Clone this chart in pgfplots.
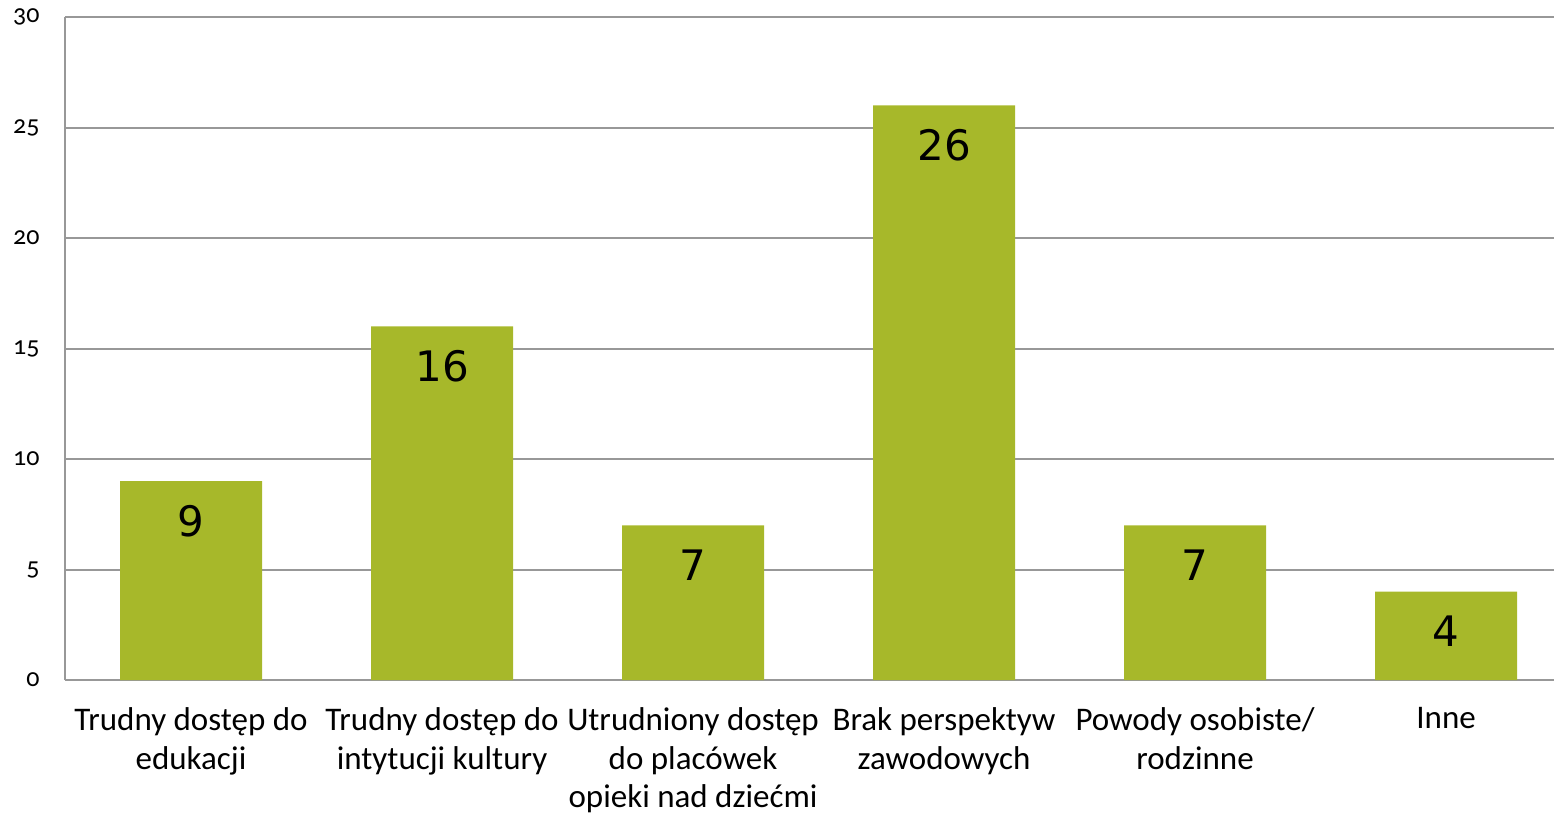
\documentclass[border=0pt]{standalone}
\usepackage{fontspec}
\setmainfont{Carlito}
\newfontfamily\tickfont[Numbers=OldStyle]{Carlito}
\newfontfamily\valfont{DejaVu Sans}
\usepackage{pgfplots}
\pgfplotsset{compat=1.18}
\definecolor{barcol}{HTML}{A7B82A}
\definecolor{gridgray}{HTML}{989898}
\begin{document}
\begin{tikzpicture}
\useasboundingbox (-32.5bp,-67.5bp) rectangle (744.5bp,340bp);
\begin{axis}[
  at={(0,0)}, anchor=south west,
  scale only axis,
  width=744.5bp, height=331.5bp,
  xmin=-0.502, xmax=5.43,
  ymin=0, ymax=30,
  ytick={0,5,...,30},
  xtick={0,...,5},
  xticklabels={{Trudny dostęp do\\edukacji},{Trudny dostęp do\\intytucji kultury},{Utrudniony dostęp\\do placówek\\opieki nad dziećmi},{Brak perspektyw\\zawodowych},{Powody osobiste/\\rodzinne},{Inne}},
  xticklabel style={align=center, anchor=north, inner sep=0pt, yshift=-13.5bp, font=\fontsize{16.5bp}{19.4bp}\selectfont},
  yticklabel style={font=\tickfont\fontsize{13bp}{15bp}\selectfont, anchor=east, inner sep=0pt, xshift=-12.5bp},
  /pgf/number format/assume math mode=true,
  axis x line=bottom, axis y line=left,
  axis line style={draw=gridgray, line width=1.2bp, -},
  major tick length=0pt,
  ymajorgrids,
  major grid style={draw=gridgray, line width=1bp},
  ybar, bar width=71bp,
  nodes near coords,
  every node near coord/.append style={anchor=center, yshift=-20bp, font=\valfont\fontsize{21bp}{25bp}\selectfont, text=black},
  clip=false,
]
\addplot[fill=barcol, draw=none] coordinates {(0,9) (1,16) (2,7) (3,26) (4,7) (5,4)};
\end{axis}
\end{tikzpicture}
\end{document}
